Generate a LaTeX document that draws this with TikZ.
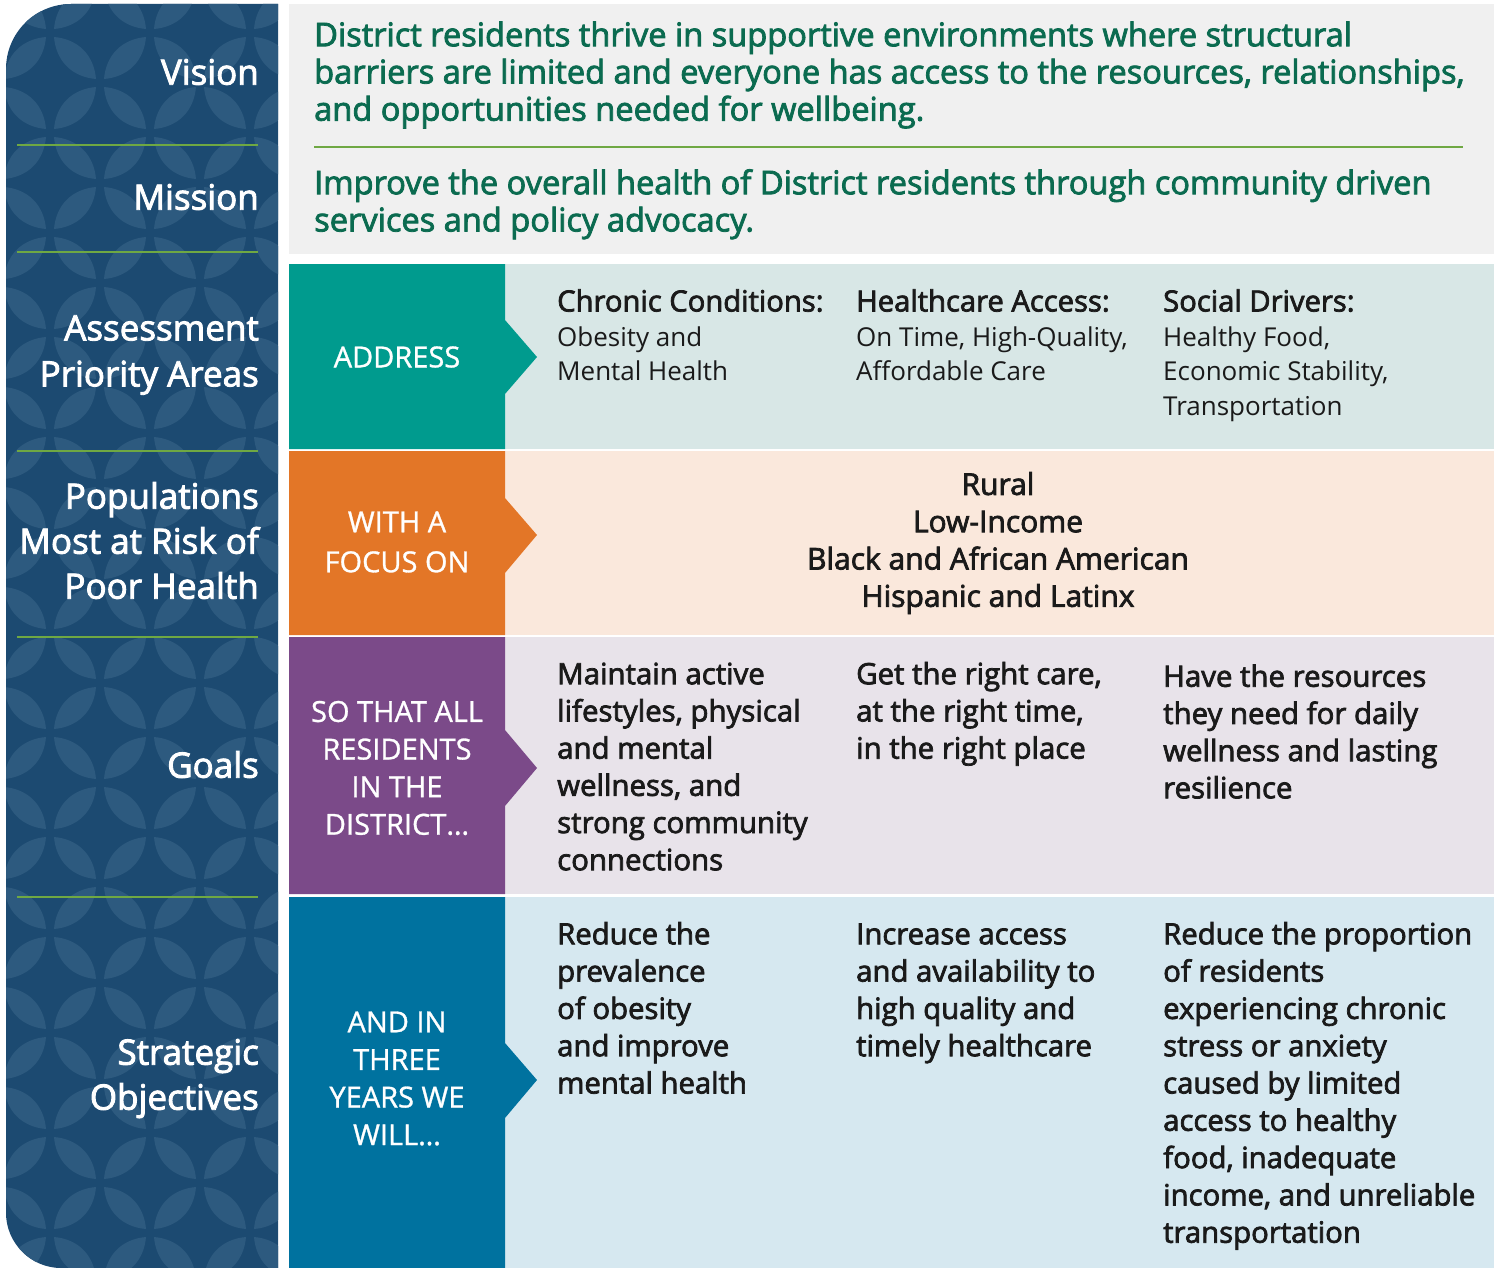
\documentclass[tikz,border=0pt]{standalone}
\usepackage{fontspec}
\setmainfont{Open Sans}
\newfontfamily\semib{Open Sans}[FakeBold=2.5]
\newfontfamily\medw{Open Sans}[FakeBold=1.0]
\definecolor{navy}{HTML}{1C4A71}
\definecolor{leafc}{HTML}{2D5A7F}
\definecolor{sepgreen}{HTML}{6FA843}
\definecolor{visbg}{HTML}{F0F0F0}
\definecolor{vistext}{HTML}{0B6B50}
\definecolor{teal}{HTML}{009B8E}
\definecolor{tealbg}{HTML}{D8E7E6}
\definecolor{orng}{HTML}{E37627}
\definecolor{orngbg}{HTML}{FAE8DC}
\definecolor{purp}{HTML}{7B4A89}
\definecolor{purpbg}{HTML}{E8E3EA}
\definecolor{blu}{HTML}{00729F}
\definecolor{blubg}{HTML}{D6E8F0}
\definecolor{ink}{HTML}{1A1A1A}
\tikzset{
  leaf/.style={fill=leafc},
  sepline/.style={draw=sepgreen, line width=2.4pt},
  sidelbl/.style={text=white, font=\semib\fontsize{35}{45}\selectfont, align=right, anchor=north east, inner sep=0pt},
  vtxt/.style={text=vistext, font=\semib\fontsize{32.6}{37.2}\selectfont, align=left, anchor=north west, inner sep=0pt},
  tagtxt/.style={text=white, font=\medw\fontsize{29}{37.6}\selectfont, align=center, anchor=center, inner sep=0pt},
  headtxt/.style={text=ink, font=\semib\fontsize{29.2}{36}\selectfont, anchor=base west, inner sep=0pt},
  bodytxt/.style={text=ink, font=\fontsize{26}{34.5}\selectfont, align=left, anchor=north west, inner sep=0pt},
  goaltxt/.style={text=ink, font=\semib\fontsize{29.4}{37.2}\selectfont, align=left, anchor=north west, inner sep=0pt},
}
\begin{document}
\begin{tikzpicture}[x=1pt,y=-1pt]
\useasboundingbox (0,0) rectangle (1501,1268);
% ---------- left panel with leaf pattern
\begin{scope}
  \path[clip] (278,4) -- (71,4) .. controls (35,4) and (6,33) .. (6,69) -- (6,1213) .. controls (6,1243) and (31,1268) .. (61,1268) -- (278,1268) -- cycle;
  \fill[navy] (0,0) rectangle (290,1268);
  \foreach \k in {-2,...,5}{
    \foreach \m in {-2,...,25}{
      \pgfmathtruncatemacro\pp{mod(\k+\m+100,2)}
      \ifnum\pp=0
        \fill[leaf, shift={({75+50*\k},{58+50*\m})}] (-21,-21) .. controls (3,-19) and (19,-3) .. (21,21) .. controls (-3,19) and (-19,3) .. (-21,-21) -- cycle;
      \else
        \fill[leaf, shift={({75+50*\k},{58+50*\m})}] (-21,21) .. controls (-19,-3) and (-3,-19) .. (21,-21) .. controls (19,3) and (3,19) .. (-21,21) -- cycle;
      \fi
    }
  }
\end{scope}
\foreach \yy in {145,252,451,637,897}{
  \draw[sepline] (17,\yy) -- (258,\yy);
}
\node[sidelbl] (vision) at (259,53) {\strut Vision};
\node[sidelbl] (mission) at (259,178) {\strut Mission};
\node[sidelbl, font=\semib\fontsize{35}{46}\selectfont] (assess) at (259,308) {\strut Assessment\\Priority Areas};
\node[sidelbl] (popul) at (259,477) {\strut Populations\\Most at Risk of\\Poor Health};
\node[sidelbl] (goals) at (259,746) {\strut Goals};
\node[sidelbl] (strat) at (259,1033) {\strut Strategic\\Objectives};
% ---------- vision / mission box
\fill[visbg] (289,4) rectangle (1494,254);
\node[vtxt] (vistxt) at (314,20) {\strut District residents thrive in supportive environments where structural\\barriers are limited and everyone has access to the resources, relationships,\\and opportunities needed for wellbeing.};
\draw[sepline, line width=2pt] (314,147) -- (1463,147);
\node[vtxt] (mistxt) at (314,168) {\strut Improve the overall health of District residents through community driven\\services and policy advocacy.};
% ---------- row 1: address
\fill[tealbg] (505,264) rectangle (1494,449);
\fill[teal] (289,264) -- (505,264) -- (505,320) -- (537,357) -- (505,394) -- (505,449) -- (289,449) -- cycle;
\node[tagtxt] (tag1) at (397,357) {ADDRESS};
\node[headtxt] (h1) at (557,311.5) {Chronic Conditions:};
\node[bodytxt] (b1) at (557,321.8) {\strut Obesity and\\Mental Health};
\node[headtxt] (h2) at (856,311.5) {Healthcare Access:};
\node[bodytxt] (b2) at (856,321.8) {\strut On Time, High-Quality,\\Affordable Care};
\node[headtxt] (h3) at (1163,311.5) {Social Drivers:};
\node[bodytxt] (b3) at (1163,321.8) {\strut Healthy Food,\\Economic Stability,\\Transportation};
% ---------- row 2: focus
\fill[orngbg] (505,451) rectangle (1494,635);
\fill[orng] (289,451) -- (505,451) -- (505,498) -- (537,535) -- (505,573) -- (505,635) -- (289,635) -- cycle;
\node[tagtxt, font=\medw\fontsize{29}{40}\selectfont] (tag2) at (397,542) {WITH A\\FOCUS ON};
\node[goaltxt, align=center, anchor=north, font=\semib\fontsize{30}{37.3}\selectfont] (focus) at (998,468.6) {\strut Rural\\Low-Income\\Black and African American\\Hispanic and Latinx};
% ---------- row 3: goals
\fill[purpbg] (505,637) rectangle (1494,894);
\fill[purp] (289,637) -- (505,637) -- (505,730) -- (537,768) -- (505,806) -- (505,894) -- (289,894) -- cycle;
\node[tagtxt] (tag3) at (397,768) {SO THAT ALL\\RESIDENTS\\IN THE\\DISTRICT…};
\node[goaltxt] (g1) at (557,658) {\strut Maintain active\\lifestyles, physical\\and mental\\wellness, and\\strong community\\connections};
\node[goaltxt] (g2) at (856,658) {\strut Get the right care,\\at the right time,\\in the right place};
\node[goaltxt] (g3) at (1163,660.5) {\strut Have the resources\\they need for daily\\wellness and lasting\\resilience};
% ---------- row 4: objectives
\fill[blubg] (505,897) rectangle (1494,1268);
\fill[blu] (289,897) -- (505,897) -- (505,1043) -- (537,1080) -- (505,1118) -- (505,1268) -- (289,1268) -- cycle;
\node[tagtxt] (tag4) at (397,1078.5) {AND IN\\THREE\\YEARS WE\\WILL…};
\node[goaltxt, font=\semib\fontsize{29.3}{37.3}\selectfont] (o1) at (557,918) {\strut Reduce the\\prevalence\\of obesity\\and improve\\mental health};
\node[goaltxt, font=\semib\fontsize{29.3}{37.3}\selectfont] (o2) at (856,918) {\strut Increase access\\and availability to\\high quality and\\timely healthcare};
\node[goaltxt, font=\semib\fontsize{29.3}{37.3}\selectfont] (o3) at (1163,918) {\strut Reduce the proportion\\of residents\\experiencing chronic\\stress or anxiety\\caused by limited\\access to healthy\\food, inadequate\\income, and unreliable\\transportation};
\end{tikzpicture}
\end{document}
